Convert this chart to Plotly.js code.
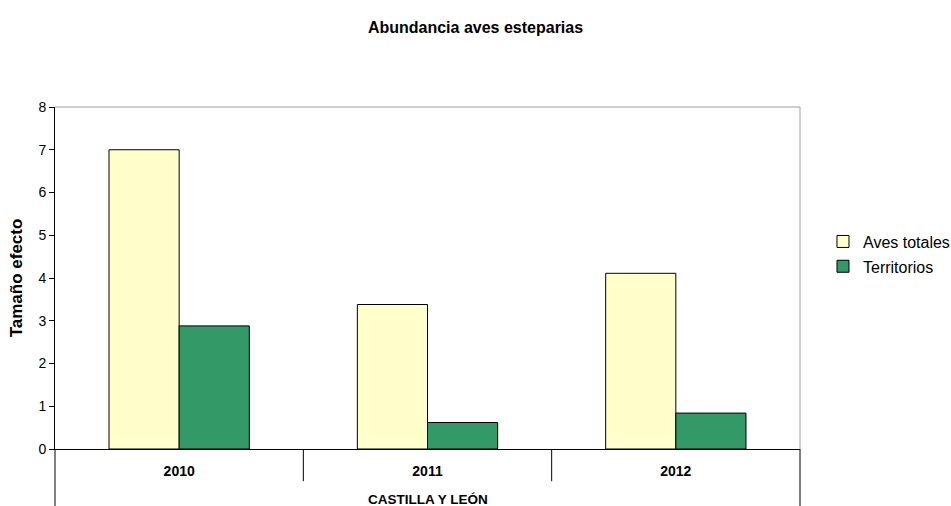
<!DOCTYPE html>
<html>
<head>
<meta charset="utf-8">
<script src="https://cdn.plot.ly/plotly-3.0.1.min.js"></script>
<style>html,body{margin:0;padding:0;background:#fff;}#chart{width:951px;height:506px;}</style>
</head>
<body>
<div id="chart"></div>
<script>
const categories = ["2010", "2011", "2012"];
const groupLabel = "CASTILLA Y LEÓN";
const avesTotales = [7.0, 3.38, 4.11];
const territorios = [2.88, 0.62, 0.84];
const seriesNames = ["Aves totales", "Territorios"];
const yTicks = [0, 1, 2, 3, 4, 5, 6, 7, 8];

const FONT = "Liberation Sans, Arial, sans-serif";

const traces = [
  {type: "bar", name: seriesNames[0], x: categories, y: avesTotales, legendgroup: "a",
   marker: {color: "#FFFFCC", line: {color: "#000000", width: 1}}},
  {type: "bar", name: seriesNames[1], x: categories, y: territorios, legendgroup: "b",
   marker: {color: "#339966", line: {color: "#000000", width: 1}}}
];

const shapes = [
  {type: "line", xref: "paper", yref: "paper", x0: 0, x1: 1, y0: 1, y1: 1, line: {color: "#A0A0A0", width: 1}},
  {type: "line", xref: "paper", yref: "paper", x0: 1, x1: 1, y0: 0, y1: 1, line: {color: "#A0A0A0", width: 1}},
  {type: "line", xref: "x", yref: "paper", x0: 0.5, x1: 0.5, y0: 0, y1: -0.094, line: {color: "#000", width: 1}},
  {type: "line", xref: "x", yref: "paper", x0: 1.5, x1: 1.5, y0: 0, y1: -0.094, line: {color: "#000", width: 1}},
  {type: "line", xref: "paper", yref: "paper", x0: 0, x1: 0, y0: 0, y1: -0.17, line: {color: "#000", width: 1}},
  {type: "line", xref: "paper", yref: "paper", x0: 1, x1: 1, y0: 0, y1: -0.17, line: {color: "#000", width: 1}}
];

const layout = {
  width: 951, height: 506,
  margin: {l: 55, r: 151, t: 107, b: 57},
  paper_bgcolor: "#ffffff", plot_bgcolor: "#ffffff",
  font: {family: FONT, color: "#000"},
  title: {text: "<b>Abundancia aves esteparias</b>", font: {family: FONT, size: 16, color: "#000"},
          x: 0.5, xanchor: "center", y: 0.945, yanchor: "middle"},
  barmode: "group", bargap: 0.435, bargroupgap: 0,
  xaxis: {type: "category", showline: true, linecolor: "#000", linewidth: 1, ticks: "",
          tickfont: {family: FONT, size: 14, color: "#000", weight: "bold"},
          ticklabelstandoff: 9, showgrid: false, zeroline: false, fixedrange: true},
  yaxis: {range: [0, 8], tickvals: yTicks, showline: true, linecolor: "#000", linewidth: 1,
          ticks: "outside", ticklen: 5, tickcolor: "#000", showgrid: false, zeroline: false,
          tickfont: {family: FONT, size: 14, color: "#000"},
          title: {text: "<b>Tamaño efecto</b>", font: {family: FONT, size: 17, color: "#000"}, standoff: 11}},
  legend: {xref: "container", x: 0.8654, xanchor: "left", y: 0.57, yanchor: "middle",
           font: {family: FONT, size: 16, color: "#000"}, bgcolor: "rgba(0,0,0,0)",
           tracegroupgap: 1, itemwidth: 30},
  annotations: [
    {text: "<b>" + groupLabel + "</b>", xref: "paper", yref: "paper", x: 0.5, y: -0.149,
     xanchor: "center", yanchor: "middle", showarrow: false, font: {family: FONT, size: 13.5, color: "#000"}}
  ],
  shapes: shapes
};

Plotly.newPlot("chart", traces, layout, {displayModeBar: false, staticPlot: true});
</script>
</body>
</html>
